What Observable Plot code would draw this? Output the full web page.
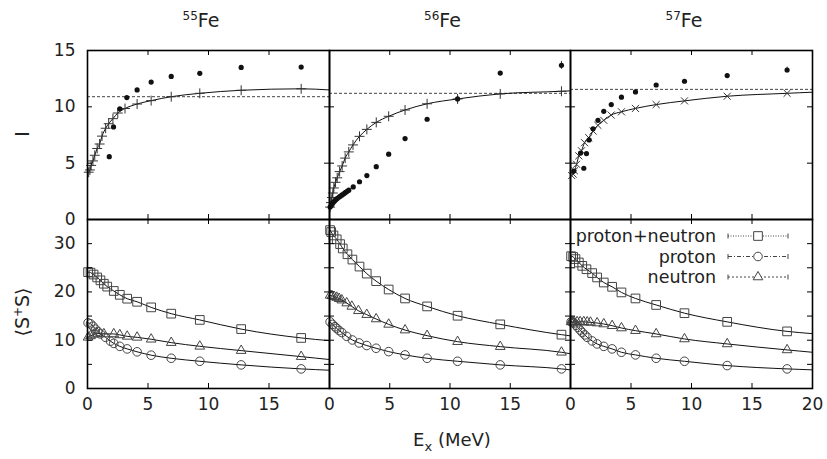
<!DOCTYPE html>
<html><head><meta charset="utf-8">
<script src="https://cdn.jsdelivr.net/npm/d3@7"></script>
<script src="https://cdn.jsdelivr.net/npm/@observablehq/plot@0.6"></script>
<style>
body{margin:0;background:#fff;}
#chart{position:relative;width:827px;height:459px;font-family:"DejaVu Sans",sans-serif;color:#222;overflow:hidden;}
.lbl{position:absolute;white-space:nowrap;transform:translate(-50%,-50%);}
.rot{transform:translate(-50%,-50%) rotate(-90deg);}
</style></head><body>
<div id="chart"></div>
<script>
// ---------- data ----------
const isotopes = ["55", "56", "57"];
const Ilevel = [10.9, 11.2, 11.55];   // dashed horizontal line
const tailE = 20;

// 55Fe strength I
const fe55ExpE = [1.8, 2.15, 2.67, 3.25, 4.1, 5.26, 6.92, 9.28, 12.7, 17.66];
const fe55ExpI = [5.58, 8.22, 9.82, 10.82, 11.5, 12.2, 12.7, 12.97, 13.5, 13.53];
const fe55CalcE = [0.1, 0.2, 0.3, 0.45, 0.6, 0.8, 1.0, 1.2, 1.5, 1.75, 2.1, 2.5, 3.1, 4.1, 5.26, 6.92, 9.28, 12.7, 17.66];
const fe55CalcI = [4.2, 4.4, 4.8, 5.2, 5.7, 6.3, 6.7, 7.4, 8.1, 8.5, 8.95, 9.45, 9.85, 10.25, 10.55, 10.9, 11.2, 11.47, 11.6];
const fe55CalcTail = 11.5;

// 56Fe strength I
const fe56ExpE = [0.05, 0.14, 0.22, 0.3, 0.4, 0.5, 0.62, 0.77, 0.9, 1.05, 1.2, 1.33, 1.47, 1.6, 1.97, 2.49, 3.1, 3.88, 4.91, 6.27, 8.1, 10.63, 14.17, 19.25];
const fe56ExpI = [1.1, 1.24, 1.38, 1.5, 1.62, 1.74, 1.85, 1.97, 2.07, 2.18, 2.29, 2.4, 2.5, 2.6, 2.89, 3.35, 3.9, 4.69, 5.8, 7.18, 8.9, 10.7, 13.0, 13.68];
const fe56ExpErr = [0, 0, 0, 0, 0, 0, 0, 0, 0, 0, 0, 0, 0, 0, 0, 0, 0, 0, 0, 0, 0, 0, 0, 0.35];
const fe56CalcE = [0.05, 0.12, 0.2, 0.28, 0.36, 0.5, 0.64, 0.84, 1.05, 1.3, 1.6, 1.95, 2.49, 3.1, 3.88, 4.91, 6.27, 8.1, 10.63, 14.17, 19.25];
const fe56CalcI = [1.1, 1.5, 1.95, 2.35, 2.8, 3.3, 3.7, 4.25, 4.75, 5.45, 6.0, 6.62, 7.38, 8.0, 8.62, 9.16, 9.72, 10.27, 10.7, 11.15, 11.38];
const fe56CalcTail = 11.42;

// 57Fe strength I
const fe57ExpE = [0.27, 0.83, 1.1, 1.32, 1.54, 1.86, 2.27, 2.75, 3.37, 4.21, 5.37, 7.08, 9.42, 12.95, 17.9];
const fe57ExpI = [4.3, 5.9, 4.55, 5.85, 7.06, 8.05, 8.8, 9.6, 10.2, 10.86, 11.32, 11.94, 12.27, 12.77, 13.27];
const fe57ExpErr = [0, 0, 0, 0, 0, 0, 0, 0, 0, 0, 0, 0, 0, 0.15, 0.25];
const fe57CalcE = [0.1, 0.22, 0.33, 0.5, 0.69, 0.91, 1.16, 1.51, 1.87, 2.26, 2.75, 3.36, 4.21, 5.37, 7.08, 9.42, 12.95, 17.9];
const fe57CalcI = [3.9, 4.03, 4.32, 4.9, 5.65, 6.1, 6.82, 7.26, 7.85, 8.36, 8.8, 9.27, 9.56, 9.86, 10.2, 10.53, 10.94, 11.2];
const fe57CalcTail = 11.3;

// <S+S> : proton+neutron (square), proton (circle), neutron (triangle)
const fe55PnE = [0.05, 0.25, 0.5, 0.8, 1.07, 1.35, 1.63, 2.17, 2.67, 3.28, 4.1, 5.26, 6.92, 9.28, 12.7, 17.66];
const fe55PnV = [24.1, 24.0, 23.6, 23.0, 22.4, 21.7, 21.1, 20.2, 19.4, 18.6, 17.96, 16.8, 15.5, 14.2, 12.3, 10.47];
const fe55NE = [0.05, 0.25, 0.5, 0.8, 1.35, 2.17, 2.67, 3.28, 4.1, 5.26, 6.92, 9.28, 12.7, 17.66];
const fe55NV = [10.6, 10.9, 11.2, 11.4, 11.3, 11.3, 11.1, 10.8, 10.6, 10.2, 9.5, 8.74, 7.85, 6.6];
const fe55PE = [0.05, 0.25, 0.45, 0.66, 0.86, 1.07, 1.49, 1.9, 2.17, 2.67, 3.28, 4.1, 5.26, 6.92, 9.28, 12.7, 17.66];
const fe55PV = [13.6, 13.4, 12.9, 12.3, 11.8, 11.3, 10.6, 9.8, 9.35, 8.73, 8.2, 7.6, 6.9, 6.26, 5.64, 4.89, 4.06];
const fe55Tails = [9.9, 3.78, 6.0];

const fe56PnE = [0.05, 0.14, 0.33, 0.6, 0.88, 1.1, 1.49, 1.9, 2.49, 3.09, 3.87, 4.91, 6.27, 8.1, 10.63, 14.17, 19.25];
const fe56PnV = [32.8, 32.4, 31.7, 30.9, 29.9, 29.0, 27.8, 26.7, 25.25, 23.8, 22.24, 20.5, 18.65, 17.0, 15.07, 13.28, 11.15];
const fe56NE = [0.05, 0.2, 0.4, 0.6, 0.8, 1.02, 1.43, 1.85, 2.4, 3.09, 3.87, 4.91, 6.27, 8.1, 10.63, 14.17, 19.25];
const fe56NV = [19.3, 19.2, 19.0, 18.85, 18.6, 18.3, 17.7, 17.0, 16.1, 15.3, 14.4, 13.28, 12.1, 10.94, 9.7, 8.67, 7.5];
const fe56PE = [0.05, 0.25, 0.45, 0.6, 0.8, 1.02, 1.43, 1.9, 2.46, 3.09, 3.87, 4.91, 6.27, 8.1, 10.63, 14.17, 19.25];
const fe56PV = [13.8, 13.28, 12.8, 12.45, 12.0, 11.6, 10.8, 10.05, 9.43, 8.9, 8.33, 7.64, 6.96, 6.26, 5.64, 4.89, 4.06];
const fe56Tails = [10.9, 3.85, 7.2];

const fe57PnE = [0.05, 0.22, 0.41, 0.69, 0.97, 1.32, 1.79, 2.2, 2.75, 3.44, 4.21, 5.37, 7.08, 9.42, 12.95, 17.9];
const fe57PnV = [27.4, 27.25, 26.8, 26.1, 25.4, 24.7, 23.9, 23.0, 21.95, 21.06, 19.9, 18.65, 17.3, 15.6, 13.8, 11.83];
const fe57NE = [0.05, 0.14, 0.3, 0.55, 0.8, 1.1, 1.38, 1.65, 2.2, 2.75, 3.44, 4.21, 5.37, 7.08, 9.42, 12.95, 17.9];
const fe57NV = [13.8, 13.8, 13.8, 13.8, 13.8, 13.8, 13.75, 13.7, 13.56, 13.36, 13.0, 12.53, 11.98, 11.3, 10.26, 9.23, 7.99];
const fe57PE = [0.05, 0.15, 0.27, 0.45, 0.6, 0.8, 0.97, 1.18, 1.38, 1.79, 2.2, 2.75, 3.44, 4.21, 5.37, 7.08, 9.42, 12.95, 17.9];
const fe57PV = [13.8, 13.7, 13.56, 13.1, 12.66, 12.1, 11.6, 11.1, 10.6, 9.85, 9.23, 8.73, 8.2, 7.5, 6.96, 6.26, 5.64, 4.75, 4.06];
const fe57Tails = [11.36, 3.86, 7.5];

const xTicks = [0, 5, 10, 15, 20];
const xTickLabels = [[0, 5, 10, 15], [0, 5, 10, 15], [0, 5, 10, 15, 20]];
const yTicksTop = [0, 5, 10, 15];
const yLabelsTop = [0, 5, 10, 15];
const yTicksBot = [0, 5, 10, 15, 20, 25, 30, 35];
const yLabelsBot = [0, 10, 20, 30];
const legendNames = ["proton+neutron", "proton", "neutron"];

// ---------- drawing ----------
const chart = document.getElementById("chart");
const colX = [[87, 329], [329, 570], [570, 812]];
const rowY = [[50, 219], [219, 388]];
const pts = (xs, ys) => xs.map((x, i) => ({x, y: ys[i]}));
const FS = 17;

const topSets = [
  {expE: fe55ExpE, expI: fe55ExpI, err: null, cE: fe55CalcE, cI: fe55CalcI, tail: fe55CalcTail, sym: "plus"},
  {expE: fe56ExpE, expI: fe56ExpI, err: fe56ExpErr, cE: fe56CalcE, cI: fe56CalcI, tail: fe56CalcTail, sym: "plus"},
  {expE: fe57ExpE, expI: fe57ExpI, err: fe57ExpErr, cE: fe57CalcE, cI: fe57CalcI, tail: fe57CalcTail, sym: "times"}
];
const botSets = [
  {pn: [fe55PnE, fe55PnV], p: [fe55PE, fe55PV], n: [fe55NE, fe55NV], tails: fe55Tails},
  {pn: [fe56PnE, fe56PnV], p: [fe56PE, fe56PV], n: [fe56NE, fe56NV], tails: fe56Tails},
  {pn: [fe57PnE, fe57PnV], p: [fe57PE, fe57PV], n: [fe57NE, fe57NV], tails: fe57Tails}
];

function panel(col, row, dataMarks) {
  const [x0, x1] = colX[col], [y0, y1] = rowY[row];
  const W = x1 - x0, H = y1 - y0;
  const ML = 50, MR = 12, MT = 10, MB = 40;
  const yT = row === 0 ? yTicksTop : yTicksBot;
  const marks = [
    ...dataMarks,
    Plot.ruleX(xTicks, {x: d => d, insetTop: H - 5, stroke: "#000", strokeWidth: 1}),
    Plot.ruleX(xTicks, {x: d => d, insetBottom: H - 5, stroke: "#000", strokeWidth: 1}),
    Plot.ruleY(yT, {y: d => d, insetRight: W - 5, stroke: "#000", strokeWidth: 1}),
    Plot.ruleY(yT, {y: d => d, insetLeft: W - 5, stroke: "#000", strokeWidth: 1}),
    Plot.frame({stroke: "#000", strokeWidth: 1.6})
  ];
  if (col === 0) {
    marks.push(Plot.text(row === 0 ? yLabelsTop : yLabelsBot,
      {y: d => d, frameAnchor: "left", dx: -12, textAnchor: "end", text: d => String(d), fontSize: FS, fill: "#222"}));
  }
  if (row === 1) {
    marks.push(Plot.text(xTickLabels[col],
      {x: d => d, frameAnchor: "bottom", dy: 21, text: d => String(d), fontSize: FS, fill: "#222"}));
  }
  const svg = Plot.plot({
    width: W + ML + MR, height: H + MT + MB,
    marginLeft: ML, marginRight: MR, marginTop: MT, marginBottom: MB,
    x: {domain: [0, 20], axis: null},
    y: {domain: row === 0 ? [0, 15] : [0, 35], axis: null},
    style: {background: "transparent", overflow: "visible", fontFamily: "DejaVu Sans", color: "#222"},
    marks
  });
  svg.style.position = "absolute";
  svg.style.left = (x0 - ML) + "px";
  svg.style.top = (y0 - MT) + "px";
  svg.style.maxWidth = "none";
  chart.appendChild(svg);
}

topSets.forEach((s, c) => {
  const calc = pts(s.cE, s.cI);
  const curve = calc.concat([{x: tailE, y: s.tail}]);
  const exp = s.expE.map((x, i) => ({x, y: s.expI[i], e: s.err ? s.err[i] : 0}));
  panel(c, 0, [
    Plot.ruleY([Ilevel[c]], {y: d => d, stroke: "#444", strokeWidth: 1, strokeDasharray: "3,2"}),
    Plot.line(curve, {x: "x", y: "y", curve: "monotone-x", stroke: "#111", strokeWidth: 1}),
    Plot.dot(calc, {x: "x", y: "y", symbol: s.sym, r: 3.3, stroke: "#333", strokeWidth: 1}),
    Plot.ruleX(exp.filter(d => d.e > 0), {x: "x", y1: d => d.y - d.e, y2: d => d.y + d.e, stroke: "#333", strokeWidth: 1}),
    Plot.dot(exp, {x: "x", y: "y", r: 2.6, fill: "#111", stroke: "none"})
  ]);
});

botSets.forEach((s, c) => {
  const series = [
    {d: s.pn, sym: "square", r: 4.9, tail: s.tails[0]},
    {d: s.p, sym: "circle", r: 4.3, tail: s.tails[1]},
    {d: s.n, sym: "triangle", r: 3.6, tail: s.tails[2]}
  ];
  const marks = [];
  series.forEach(se => {
    const p = pts(se.d[0], se.d[1]);
    marks.push(Plot.line(p.concat([{x: tailE, y: se.tail}]), {x: "x", y: "y", curve: "monotone-x", stroke: "#111", strokeWidth: 1}));
  });
  series.forEach(se => {
    marks.push(Plot.dot(pts(se.d[0], se.d[1]), {x: "x", y: "y", symbol: se.sym, r: se.r, stroke: "#444", strokeWidth: 1, fill: "none"}));
  });
  panel(c, 1, marks);
});

// titles
isotopes.forEach((iso, c) => {
  const cx = (colX[c][0] + colX[c][1]) / 2 - 7;
  const d = document.createElement("div");
  d.className = "lbl";
  d.style.left = cx + "px"; d.style.top = "20px"; d.style.fontSize = "19px";
  d.innerHTML = `<span style="font-size:12px;vertical-align:7px">${iso}</span>Fe`;
  chart.appendChild(d);
});

// axis titles
function addLabel(html, x, y, rot, fs) {
  const d = document.createElement("div");
  d.className = "lbl" + (rot ? " rot" : "");
  d.style.left = x + "px"; d.style.top = y + "px"; d.style.fontSize = fs + "px";
  d.innerHTML = html;
  chart.appendChild(d);
}
addLabel("I", 22, 134, true, 19);
addLabel("⟨S<span style=\"font-size:12px;vertical-align:7px\">+</span>S⟩", 22, 312, true, 19);
addLabel("E<span style=\"font-size:13px;vertical-align:-5px\">x</span> (MeV)", 452, 441, false, 18);

// legend
const legY = [236, 256.5, 277];
const legStyles = [
  {dash: "1,1.5", sym: "square"},
  {dash: "4,2,1,2", sym: "circle"},
  {dash: "2,2", sym: "triangle"}
];
legendNames.forEach((name, i) => {
  const t = document.createElement("div");
  t.style.position = "absolute";
  t.style.right = (827 - 716) + "px";
  t.style.top = (legY[i] - 11) + "px";
  t.style.fontSize = "17.5px";
  t.style.lineHeight = "22px";
  t.style.whiteSpace = "nowrap";
  t.textContent = name;
  chart.appendChild(t);
});
const ls = d3.select(chart).append("svg")
  .style("position", "absolute").style("left", "720px").style("top", "220px")
  .attr("width", 80).attr("height", 70);
legendNames.forEach((name, i) => {
  const y = legY[i] - 220;
  const g = ls.append("g").attr("stroke", "#444").attr("fill", "none").attr("stroke-width", 1);
  g.append("line").attr("x1", 8).attr("x2", 68).attr("y1", y).attr("y2", y).attr("stroke-dasharray", legStyles[i].dash);
  g.append("line").attr("x1", 8).attr("x2", 8).attr("y1", y - 2.5).attr("y2", y + 2.5);
  g.append("line").attr("x1", 68).attr("x2", 68).attr("y1", y - 2.5).attr("y2", y + 2.5);
  const symType = {square: d3.symbolSquare, circle: d3.symbolCircle, triangle: d3.symbolTriangle}[legStyles[i].sym];
  const size = {square: 75, circle: 58, triangle: 40}[legStyles[i].sym];
  g.append("path").attr("d", d3.symbol(symType, size)()).attr("transform", `translate(38,${y})`).attr("fill", "#fff");
});
</script></body></html>
